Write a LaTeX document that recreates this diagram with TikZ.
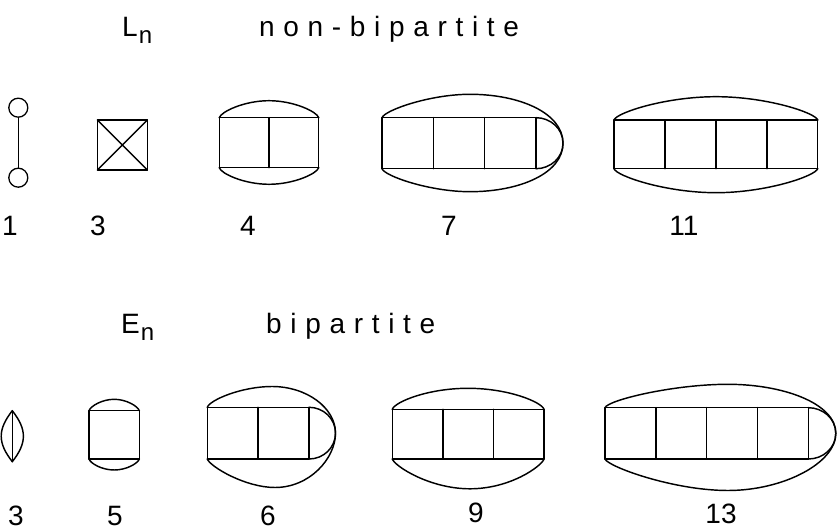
\documentclass[tikz,border=0pt]{standalone}
\usepackage{fontspec}
\setmainfont{Liberation Sans}
\newfontfamily\spaced[LetterSpace=31]{Liberation Sans}

% ladder: name, left x, top y, number of cells, cell width, cell height
\newcommand\ladder[6]{%
  \foreach \i in {0,...,#4}{%
    \coordinate (#1-t\i) at ({#2+\i*#5},#3);
    \coordinate (#1-b\i) at ({#2+\i*#5},{#3-#6});
  }
  \draw[edge] (#1-t0) -- (#1-t#4) (#1-b0) -- (#1-b#4);
  \foreach \i in {0,...,#4}{\draw[edge] (#1-t\i) -- (#1-b\i);}
}

\begin{document}
\begin{tikzpicture}[x=1pt,y=1pt,
  edge/.style={line width=1.45pt, line join=round, line cap=round},
  vertex/.style={circle, draw, line width=1.3pt, minimum size=19pt, inner sep=0pt},
  num/.style={inner sep=0pt, anchor=base, font=\fontsize{28}{28}\selectfont},
  title/.style={inner sep=0pt, anchor=base west, font=\fontsize{28}{28}\selectfont\spaced},
  family/.style={inner sep=0pt, anchor=base west, font=\fontsize{28}{28}\selectfont}]
\useasboundingbox (0,0) rectangle (837,532);

% ---------------- headings ----------------
\node[family] (hL) at (122,495) {L\kern1pt{\fontsize{24}{24}\selectfont\raisebox{-7pt}{n}}};
\node[title]  (hnb) at (259,495) {non-bipartite};
\node[family] (hE) at (121,198) {E\kern1pt{\fontsize{24}{24}\selectfont\raisebox{-7pt}{n}}};
\node[title]  (hb) at (266,198) {bipartite};

% ---------------- L_n row ----------------
% L1: a single edge
\node[vertex] (L1-a) at (18.3,424.3) {};
\node[vertex] (L1-b) at (18.3,354.3) {};
\draw[edge] (L1-a) -- (L1-b);

% L3: K4 drawn as a square with its diagonals
\coordinate (L3-1) at (97.3,412);
\coordinate (L3-2) at (147.3,412);
\coordinate (L3-3) at (147.3,362);
\coordinate (L3-4) at (97.3,362);
\draw[edge] (L3-1) -- (L3-2) -- (L3-3) -- (L3-4) -- cycle;
\draw[edge] (L3-1) -- (L3-3) (L3-2) -- (L3-4);

% L4
\ladder{L4}{219.3}{414.3}{2}{49.7}{50}
\coordinate (L4-top) at (269,431.3);
\coordinate (L4-bot) at (269,347.7);
\draw[edge] (L4-t0) to[out=75,in=180,out distance=6,in distance=25] (L4-top)
            to[out=0,in=105,out distance=25,in distance=6] (L4-t2);
\draw[edge] (L4-b0) to[out=-75,in=180,out distance=6,in distance=25] (L4-bot)
            to[out=0,in=-105,out distance=25,in distance=6] (L4-b2);

% L7
\ladder{L7}{382}{414.3}{3}{51.33}{51}
\coordinate (L7-tip) at (563,388.8);
\coordinate (L7-top) at (470,437.7);
\coordinate (L7-bot) at (470,340.3);
\draw[edge] (L7-t3) to[out=0,in=90] (L7-tip) to[out=-90,in=0] (L7-b3);
\draw[edge] (L7-t0) to[out=70,in=180,out distance=8,in distance=40] (L7-top)
            to[out=0,in=90,out distance=50,in distance=30] (L7-tip)
            to[out=-90,in=0,out distance=30,in distance=50] (L7-bot)
            to[out=180,in=-70,out distance=40,in distance=8] (L7-b0);

% L11
\ladder{L11}{614}{412}{4}{50.93}{48.7}
\coordinate (L11-top) at (716,435.3);
\coordinate (L11-bot) at (716,339.3);
\draw[edge] (L11-t0) to[out=70,in=180,out distance=8,in distance=50] (L11-top)
            to[out=0,in=110,out distance=50,in distance=8] (L11-t4);
\draw[edge] (L11-b0) to[out=-70,in=180,out distance=8,in distance=50] (L11-bot)
            to[out=0,in=-110,out distance=50,in distance=8] (L11-b4);

% labels
\node[num] (nL1) at (10,296) {1};
\node[num] (nL3) at (98,296) {3};
\node[num] (nL4) at (248,296) {4};
\node[num] (nL7) at (449,296) {7};
\node[num] (nL11) at (684,296) {11};

% ---------------- E_n row ----------------
% E3: three parallel edges
\coordinate (E3-t) at (12.3,121.3);
\coordinate (E3-b) at (12.3,70.3);
\draw[edge] (E3-t) -- (E3-b);
\draw[edge] (E3-t) to[out=232,in=128,out distance=24,in distance=24] (E3-b);
\draw[edge] (E3-t) to[out=-52,in=52,out distance=24,in distance=24] (E3-b);

% E5
\ladder{E5}{89}{121.3}{1}{50.3}{48.3}
\coordinate (E5-top) at (114.2,132.7);
\coordinate (E5-bot) at (114.2,62);
\draw[edge] (E5-t0) to[out=70,in=180,out distance=5,in distance=12] (E5-top)
            to[out=0,in=110,out distance=12,in distance=5] (E5-t1);
\draw[edge] (E5-b0) to[out=-70,in=180,out distance=5,in distance=12] (E5-bot)
            to[out=0,in=-110,out distance=12,in distance=5] (E5-b1);

% E6
\ladder{E6}{207.3}{124.7}{2}{50.85}{51.7}
\coordinate (E6-tip) at (335.5,98.9);
\coordinate (E6-top) at (272,145.5);
\coordinate (E6-bot) at (275,44.5);
\draw[edge] (E6-t2) to[out=0,in=90] (E6-tip) to[out=-90,in=0] (E6-b2);
\draw[edge] (E6-t0) to[out=70,in=180,out distance=8,in distance=30] (E6-top)
            to[out=0,in=90,out distance=35,in distance=25] (E6-tip)
            to[out=-90,in=0,out distance=25,in distance=35] (E6-bot)
            to[out=180,in=-70,out distance=30,in distance=8] (E6-b0);

% E9
\ladder{E9}{392.3}{122.7}{3}{50.57}{49.7}
\coordinate (E9-top) at (468,143.7);
\coordinate (E9-bot) at (470,43.2);
\draw[edge] (E9-t0) to[out=70,in=180,out distance=8,in distance=40] (E9-top)
            to[out=0,in=110,out distance=40,in distance=8] (E9-t3);
\draw[edge] (E9-b0) to[out=-70,in=180,out distance=8,in distance=40] (E9-bot)
            to[out=0,in=-110,out distance=40,in distance=8] (E9-b3);

% E13
\ladder{E13}{605}{124.3}{4}{50.83}{51.3}
\coordinate (E13-tip) at (835.8,98.7);
\coordinate (E13-top) at (728,147.7);
\coordinate (E13-bot) at (728,41.5);
\draw[edge] (E13-t4) to[out=0,in=90] (E13-tip) to[out=-90,in=0] (E13-b4);
\draw[edge] (E13-t0) to[out=70,in=180,out distance=8,in distance=55] (E13-top)
            to[out=0,in=90,out distance=55,in distance=30] (E13-tip)
            to[out=-90,in=0,out distance=30,in distance=55] (E13-bot)
            to[out=180,in=-70,out distance=55,in distance=8] (E13-b0);

% labels
\node[num] (nE3) at (16,6) {3};
\node[num] (nE5) at (115,6) {5};
\node[num] (nE6) at (268,6) {6};
\node[num] (nE9) at (476,9) {9};
\node[num] (nE13) at (721,8) {13};
\end{tikzpicture}
\end{document}
